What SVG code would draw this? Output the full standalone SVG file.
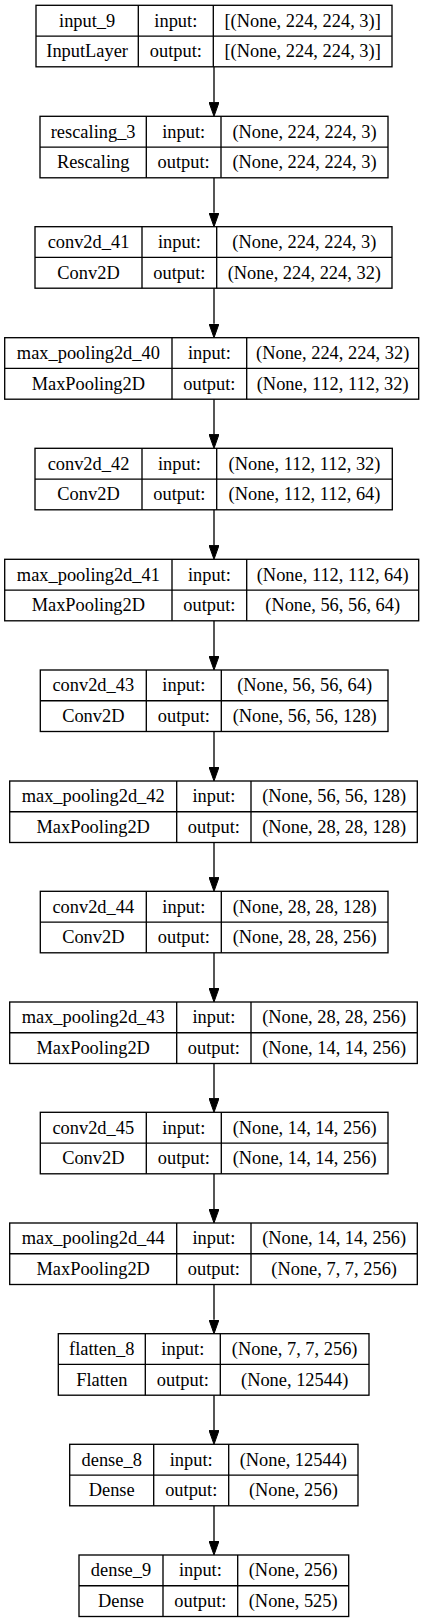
<svg xmlns="http://www.w3.org/2000/svg" width="428" height="1623" viewBox="0 0 428 1623">
<defs>
<style>
.box{fill:#fff;stroke:#000;stroke-width:1.33}
.grid{stroke:#000;stroke-width:1.33;fill:none}
.t{font-family:"Liberation Serif","Times New Roman",serif;font-size:18.4px;fill:#000;text-anchor:middle}
.edge{stroke:#000;stroke-width:1.33;fill:none}
</style>
<marker id="arrow" viewBox="0 0 14 10" refX="0" refY="5" markerWidth="14" markerHeight="10" markerUnits="userSpaceOnUse" orient="auto">
<path d="M0,0 L14,5 L0,10 z" fill="#000" stroke="#000" stroke-width="1"/>
</marker>
</defs>
<rect width="428" height="1623" fill="#fff"/>
<g id="connectors">
<line class="edge" x1="214" y1="66.8" x2="214" y2="102.3" marker-end="url(#arrow)"/>
<line class="edge" x1="214" y1="177.8" x2="214" y2="212.7" marker-end="url(#arrow)"/>
<line class="edge" x1="214" y1="288.2" x2="214" y2="323.7" marker-end="url(#arrow)"/>
<line class="edge" x1="214" y1="399.2" x2="214" y2="434.3" marker-end="url(#arrow)"/>
<line class="edge" x1="214" y1="509.8" x2="214" y2="545.3" marker-end="url(#arrow)"/>
<line class="edge" x1="214" y1="620.8" x2="214" y2="656" marker-end="url(#arrow)"/>
<line class="edge" x1="214" y1="731.5" x2="214" y2="767" marker-end="url(#arrow)"/>
<line class="edge" x1="214" y1="842.5" x2="214" y2="877.3" marker-end="url(#arrow)"/>
<line class="edge" x1="214" y1="952.8" x2="214" y2="988" marker-end="url(#arrow)"/>
<line class="edge" x1="214" y1="1063.5" x2="214" y2="1098.3" marker-end="url(#arrow)"/>
<line class="edge" x1="214" y1="1173.8" x2="214" y2="1209" marker-end="url(#arrow)"/>
<line class="edge" x1="214" y1="1284.5" x2="214" y2="1319.7" marker-end="url(#arrow)"/>
<line class="edge" x1="214" y1="1395.2" x2="214" y2="1430.3" marker-end="url(#arrow)"/>
<line class="edge" x1="214" y1="1505.8" x2="214" y2="1541" marker-end="url(#arrow)"/>
</g>
<g id="input_9" transform="translate(0,5.3)">
<rect class="box" x="36" y="0" width="356" height="61.5"/>
<path class="grid" d="M36,30.75H392M138.3,0V61.5M213.3,0V61.5"/>
<text class="t" x="87.15" y="21.4">input_9</text><text class="t" x="175.8" y="21.4">input:</text><text class="t" x="302.65" y="21.4">[(None, 224, 224, 3)]</text>
<text class="t" x="87.15" y="52.2">InputLayer</text><text class="t" x="175.8" y="52.2">output:</text><text class="t" x="302.65" y="52.2">[(None, 224, 224, 3)]</text>
</g>
<g id="rescaling_3" transform="translate(0,116.3)">
<rect class="box" x="40" y="0" width="348" height="61.5"/>
<path class="grid" d="M40,30.75H388M146.3,0V61.5M221,0V61.5"/>
<text class="t" x="93.15" y="21.4">rescaling_3</text><text class="t" x="183.65" y="21.4">input:</text><text class="t" x="304.5" y="21.4">(None, 224, 224, 3)</text>
<text class="t" x="93.15" y="52.2">Rescaling</text><text class="t" x="183.65" y="52.2">output:</text><text class="t" x="304.5" y="52.2">(None, 224, 224, 3)</text>
</g>
<g id="conv2d_41" transform="translate(0,226.7)">
<rect class="box" x="35" y="0" width="357" height="61.5"/>
<path class="grid" d="M35,30.75H392M142,0V61.5M216.7,0V61.5"/>
<text class="t" x="88.5" y="21.4">conv2d_41</text><text class="t" x="179.35" y="21.4">input:</text><text class="t" x="304.35" y="21.4">(None, 224, 224, 3)</text>
<text class="t" x="88.5" y="52.2">Conv2D</text><text class="t" x="179.35" y="52.2">output:</text><text class="t" x="304.35" y="52.2">(None, 224, 224, 32)</text>
</g>
<g id="max_pooling2d_40" transform="translate(0,337.7)">
<rect class="box" x="4.7" y="0" width="414" height="61.5"/>
<path class="grid" d="M4.7,30.75H418.7M172,0V61.5M246.7,0V61.5"/>
<text class="t" x="88.35" y="21.4">max_pooling2d_40</text><text class="t" x="209.35" y="21.4">input:</text><text class="t" x="332.7" y="21.4">(None, 224, 224, 32)</text>
<text class="t" x="88.35" y="52.2">MaxPooling2D</text><text class="t" x="209.35" y="52.2">output:</text><text class="t" x="332.7" y="52.2">(None, 112, 112, 32)</text>
</g>
<g id="conv2d_42" transform="translate(0,448.3)">
<rect class="box" x="35" y="0" width="357.3" height="61.5"/>
<path class="grid" d="M35,30.75H392.3M142,0V61.5M216.7,0V61.5"/>
<text class="t" x="88.5" y="21.4">conv2d_42</text><text class="t" x="179.35" y="21.4">input:</text><text class="t" x="304.5" y="21.4">(None, 112, 112, 32)</text>
<text class="t" x="88.5" y="52.2">Conv2D</text><text class="t" x="179.35" y="52.2">output:</text><text class="t" x="304.5" y="52.2">(None, 112, 112, 64)</text>
</g>
<g id="max_pooling2d_41" transform="translate(0,559.3)">
<rect class="box" x="4.7" y="0" width="414" height="61.5"/>
<path class="grid" d="M4.7,30.75H418.7M172,0V61.5M246.7,0V61.5"/>
<text class="t" x="88.35" y="21.4">max_pooling2d_41</text><text class="t" x="209.35" y="21.4">input:</text><text class="t" x="332.7" y="21.4">(None, 112, 112, 64)</text>
<text class="t" x="88.35" y="52.2">MaxPooling2D</text><text class="t" x="209.35" y="52.2">output:</text><text class="t" x="332.7" y="52.2">(None, 56, 56, 64)</text>
</g>
<g id="conv2d_43" transform="translate(0,670)">
<rect class="box" x="40.3" y="0" width="347.7" height="61.5"/>
<path class="grid" d="M40.3,30.75H388M146.3,0V61.5M221.3,0V61.5"/>
<text class="t" x="93.3" y="21.4">conv2d_43</text><text class="t" x="183.8" y="21.4">input:</text><text class="t" x="304.65" y="21.4">(None, 56, 56, 64)</text>
<text class="t" x="93.3" y="52.2">Conv2D</text><text class="t" x="183.8" y="52.2">output:</text><text class="t" x="304.65" y="52.2">(None, 56, 56, 128)</text>
</g>
<g id="max_pooling2d_42" transform="translate(0,781)">
<rect class="box" x="9.7" y="0" width="407.6" height="61.5"/>
<path class="grid" d="M9.7,30.75H417.3M176.7,0V61.5M251,0V61.5"/>
<text class="t" x="93.2" y="21.4">max_pooling2d_42</text><text class="t" x="213.85" y="21.4">input:</text><text class="t" x="334.15" y="21.4">(None, 56, 56, 128)</text>
<text class="t" x="93.2" y="52.2">MaxPooling2D</text><text class="t" x="213.85" y="52.2">output:</text><text class="t" x="334.15" y="52.2">(None, 28, 28, 128)</text>
</g>
<g id="conv2d_44" transform="translate(0,891.3)">
<rect class="box" x="40.3" y="0" width="347.7" height="61.5"/>
<path class="grid" d="M40.3,30.75H388M146.3,0V61.5M221.3,0V61.5"/>
<text class="t" x="93.3" y="21.4">conv2d_44</text><text class="t" x="183.8" y="21.4">input:</text><text class="t" x="304.65" y="21.4">(None, 28, 28, 128)</text>
<text class="t" x="93.3" y="52.2">Conv2D</text><text class="t" x="183.8" y="52.2">output:</text><text class="t" x="304.65" y="52.2">(None, 28, 28, 256)</text>
</g>
<g id="max_pooling2d_43" transform="translate(0,1002)">
<rect class="box" x="9.7" y="0" width="407.6" height="61.5"/>
<path class="grid" d="M9.7,30.75H417.3M176.7,0V61.5M251,0V61.5"/>
<text class="t" x="93.2" y="21.4">max_pooling2d_43</text><text class="t" x="213.85" y="21.4">input:</text><text class="t" x="334.15" y="21.4">(None, 28, 28, 256)</text>
<text class="t" x="93.2" y="52.2">MaxPooling2D</text><text class="t" x="213.85" y="52.2">output:</text><text class="t" x="334.15" y="52.2">(None, 14, 14, 256)</text>
</g>
<g id="conv2d_45" transform="translate(0,1112.3)">
<rect class="box" x="40.3" y="0" width="347.7" height="61.5"/>
<path class="grid" d="M40.3,30.75H388M146.3,0V61.5M221.3,0V61.5"/>
<text class="t" x="93.3" y="21.4">conv2d_45</text><text class="t" x="183.8" y="21.4">input:</text><text class="t" x="304.65" y="21.4">(None, 14, 14, 256)</text>
<text class="t" x="93.3" y="52.2">Conv2D</text><text class="t" x="183.8" y="52.2">output:</text><text class="t" x="304.65" y="52.2">(None, 14, 14, 256)</text>
</g>
<g id="max_pooling2d_44" transform="translate(0,1223)">
<rect class="box" x="9.7" y="0" width="407.6" height="61.5"/>
<path class="grid" d="M9.7,30.75H417.3M176.7,0V61.5M251,0V61.5"/>
<text class="t" x="93.2" y="21.4">max_pooling2d_44</text><text class="t" x="213.85" y="21.4">input:</text><text class="t" x="334.15" y="21.4">(None, 14, 14, 256)</text>
<text class="t" x="93.2" y="52.2">MaxPooling2D</text><text class="t" x="213.85" y="52.2">output:</text><text class="t" x="334.15" y="52.2">(None, 7, 7, 256)</text>
</g>
<g id="flatten_8" transform="translate(0,1333.7)">
<rect class="box" x="58.3" y="0" width="310.7" height="61.5"/>
<path class="grid" d="M58.3,30.75H369M145.3,0V61.5M220.3,0V61.5"/>
<text class="t" x="101.8" y="21.4">flatten_8</text><text class="t" x="182.8" y="21.4">input:</text><text class="t" x="294.65" y="21.4">(None, 7, 7, 256)</text>
<text class="t" x="101.8" y="52.2">Flatten</text><text class="t" x="182.8" y="52.2">output:</text><text class="t" x="294.65" y="52.2">(None, 12544)</text>
</g>
<g id="dense_8" transform="translate(0,1444.3)">
<rect class="box" x="69.7" y="0" width="288.3" height="61.5"/>
<path class="grid" d="M69.7,30.75H358M153.7,0V61.5M228.7,0V61.5"/>
<text class="t" x="111.7" y="21.4">dense_8</text><text class="t" x="191.2" y="21.4">input:</text><text class="t" x="293.35" y="21.4">(None, 12544)</text>
<text class="t" x="111.7" y="52.2">Dense</text><text class="t" x="191.2" y="52.2">output:</text><text class="t" x="293.35" y="52.2">(None, 256)</text>
</g>
<g id="dense_9" transform="translate(0,1555)">
<rect class="box" x="79" y="0" width="269.7" height="61.5"/>
<path class="grid" d="M79,30.75H348.7M163,0V61.5M237.7,0V61.5"/>
<text class="t" x="121" y="21.4">dense_9</text><text class="t" x="200.35" y="21.4">input:</text><text class="t" x="293.2" y="21.4">(None, 256)</text>
<text class="t" x="121" y="52.2">Dense</text><text class="t" x="200.35" y="52.2">output:</text><text class="t" x="293.2" y="52.2">(None, 525)</text>
</g>
</svg>
